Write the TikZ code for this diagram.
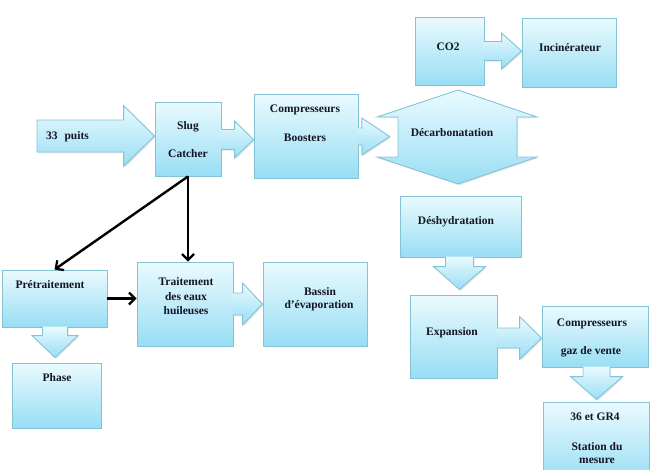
\documentclass[tikz,border=0pt]{standalone}
\usepackage{fontspec}
\setmainfont{Liberation Serif}
\usetikzlibrary{calc,arrows.meta,shadows}
\definecolor{ctop}{RGB}{234,250,254}
\definecolor{cbot}{RGB}{152,222,244}
\definecolor{bord}{RGB}{132,194,214}
\definecolor{txtc}{RGB}{20,20,35}
\tikzset{
  box/.style={draw=bord, line width=0.9pt, top color=ctop, bottom color=cbot,
    inner sep=0pt, drop shadow={shadow xshift=1.2pt, shadow yshift=-1.2pt, opacity=0.25}},
  bshade/.style={top color=ctop, bottom color=cbot,
    drop shadow={shadow xshift=1.2pt, shadow yshift=-1.2pt, opacity=0.2}},
  bline/.style={draw=bord, line width=0.9pt, line join=miter},
  txt/.style={font=\bfseries\fontsize{11.5}{13}\selectfont, text=txtc, inner sep=0pt},
  blk/.style={draw=black, line width=2.4pt, -{Straight Barb[length=6pt,width=12pt,line width=2.2pt]}},
}
% right block arrow: #1 start, #2 tip, #3 y (image), #4 head length, #5 body half, #6 head half
\newcommand\rarr[6]{%
  \path[bshade] let \p1=#1, \p2=#2, \p3=(0,#3) in
   ({\x1-0.8pt},{\y3+#5pt}) -- ({\x2-#4pt},{\y3+#5pt}) -- ({\x2-#4pt},{\y3+#6pt}) -- (\x2,\y3)
   -- ({\x2-#4pt},{\y3-#6pt}) -- ({\x2-#4pt},{\y3-#5pt}) -- ({\x1-0.8pt},{\y3-#5pt}) -- cycle;
  \path[bline] let \p1=#1, \p2=#2, \p3=(0,#3) in
   ({\x1-0.4pt},{\y3+#5pt}) -- ({\x2-#4pt},{\y3+#5pt}) -- ({\x2-#4pt},{\y3+#6pt}) -- (\x2,\y3)
   -- ({\x2-#4pt},{\y3-#6pt}) -- ({\x2-#4pt},{\y3-#5pt}) -- ({\x1-0.4pt},{\y3-#5pt});
}
% down block arrow: #1 start, #2 tip, #3 x (image), #4 head length, #5 body half, #6 head half
\newcommand\darr[6]{%
  \path[bshade] let \p1=#1, \p2=#2, \p3=(#3,0) in
   ({\x3-#5pt},{\y1+0.8pt}) -- ({\x3-#5pt},{\y2+#4pt}) -- ({\x3-#6pt},{\y2+#4pt}) -- (\x3,\y2)
   -- ({\x3+#6pt},{\y2+#4pt}) -- ({\x3+#5pt},{\y2+#4pt}) -- ({\x3+#5pt},{\y1+0.8pt}) -- cycle;
  \path[bline] let \p1=#1, \p2=#2, \p3=(#3,0) in
   ({\x3-#5pt},{\y1+0.4pt}) -- ({\x3-#5pt},{\y2+#4pt}) -- ({\x3-#6pt},{\y2+#4pt}) -- (\x3,\y2)
   -- ({\x3+#6pt},{\y2+#4pt}) -- ({\x3+#5pt},{\y2+#4pt}) -- ({\x3+#5pt},{\y1+0.4pt});
}
\begin{document}
\begin{tikzpicture}[x=1pt,y=-1pt]
\useasboundingbox (0,0) rectangle (655,469);

% boxes
\node[box, minimum width=66pt, minimum height=74pt] (slug) at (188,139) {};
\node[box, minimum width=104pt, minimum height=84pt] (comp) at (306,136) {};
\node[box, minimum width=69pt, minimum height=68pt] (co2) at (449.5,51) {};
\node[box, minimum width=94pt, minimum height=69pt] (inc) at (569,52.5) {};
\node[box, minimum width=121pt, minimum height=61pt] (desh) at (460.5,226.5) {};
\node[box, minimum width=87pt, minimum height=83pt] (exp) at (453.5,336.5) {};
\node[box, minimum width=106pt, minimum height=61pt] (cgv) at (595,336.5) {};
\node[box, minimum width=106pt, minimum height=80pt] (st) at (596,442) {};
\node[box, minimum width=105pt, minimum height=57pt] (pre) at (54.5,298.5) {};
\node[box, minimum width=89pt, minimum height=65pt] (phase) at (56.5,395.5) {};
\node[box, minimum width=96pt, minimum height=84pt] (trait) at (185,304) {};
\node[box, minimum width=104pt, minimum height=84pt] (bassin) at (315,304) {};

% decarbonatation double arrow
\node[minimum width=119pt, minimum height=40pt, inner sep=0pt] (decarb) at (457.5,137) {};
\path[bshade, bline] (458,90) -- (537,117) -- (517,117) -- (517,157) -- (537,157) -- (458,184)
  -- (377,157) -- (398,157) -- (398,117) -- (377,117) -- cycle;

% 33 puits input arrow
\coordinate (src) at (37,136);
\path[bshade, bline] let \p1=(src), \p2=(slug.west) in
  (\x1,{\y1+16pt}) -- ({\x2-31pt},{\y1+16pt}) -- ({\x2-31pt},{\y1+30.5pt}) -- (\x2,\y1)
  -- ({\x2-31pt},{\y1-30.5pt}) -- ({\x2-31pt},{\y1-16pt}) -- (\x1,{\y1-16pt}) -- cycle;

% block arrows between nodes
\rarr{(slug.east)}{(comp.west)}{139.5}{19}{10}{18.5}
\rarr{(comp.east)}{($(decarb.west)+(-8pt,0)$)}{136.5}{28}{8.5}{18.5}
\rarr{(co2.east)}{(inc.west)}{51}{20}{9.5}{18}
\rarr{(exp.east)}{(cgv.west)}{338}{22}{10}{21.5}
\rarr{(trait.east)}{(bassin.west)}{304}{20}{11}{21}
\darr{(desh.south)}{($(exp.north)+(0,5pt)$)}{459.5}{23}{14}{26}
\darr{(cgv.south)}{($(st.north)+(0,2pt)$)}{596.5}{23}{13.5}{26}
\darr{(pre.south)}{($(phase.north)+(0,5pt)$)}{55}{22}{12.5}{23}

% black connectors
\draw[blk] (slug.south) -- (slug.south |- trait.north);
\draw[blk] (slug.south) -- (pre.north);
\draw[blk] (pre.east) -- (pre.east -| trait.west);

% texts
\node[txt, anchor=west] (t33) at (46,137) {33\hspace{0.6em}puits};
\node[txt] (tslug) at (188,127) {Slug};
\node[txt] (tcatch) at (188,154) {Catcher};
\node[txt] (tcomp1) at (305,110) {Compresseurs};
\node[txt] (tcomp2) at (305,138) {Boosters};
\node[txt] (tco2) at (448,47) {CO2};
\node[txt] (tinc) at (570,48) {Incinérateur};
\node[txt] (tdec) at (452,133) {Décarbonatation};
\node[txt] (tdesh) at (456,222) {Déshydratation};
\node[txt] (texp) at (452,333) {Expansion};
\node[txt] (tcgv1) at (592,324) {Compresseurs};
\node[txt] (tcgv2) at (591,352) {gaz de vente};
\node[txt] (tst1) at (595,417) {36 et GR4};
\node[txt] (tst2) at (597,447) {Station du};
\node[txt] (tst3) at (597,461) {mesure};
\node[txt] (tpre) at (50,285) {Prétraitement};
\node[txt] (tphase) at (57,378) {Phase};
\node[txt] (ttr1) at (186,282) {Traitement};
\node[txt] (ttr2) at (186,297) {des eaux};
\node[txt] (ttr3) at (186,311) {huileuses};
\node[txt] (tbas1) at (320,292) {Bassin};
\node[txt] (tbas2) at (319,306) {d'évaporation};
\end{tikzpicture}
\end{document}
